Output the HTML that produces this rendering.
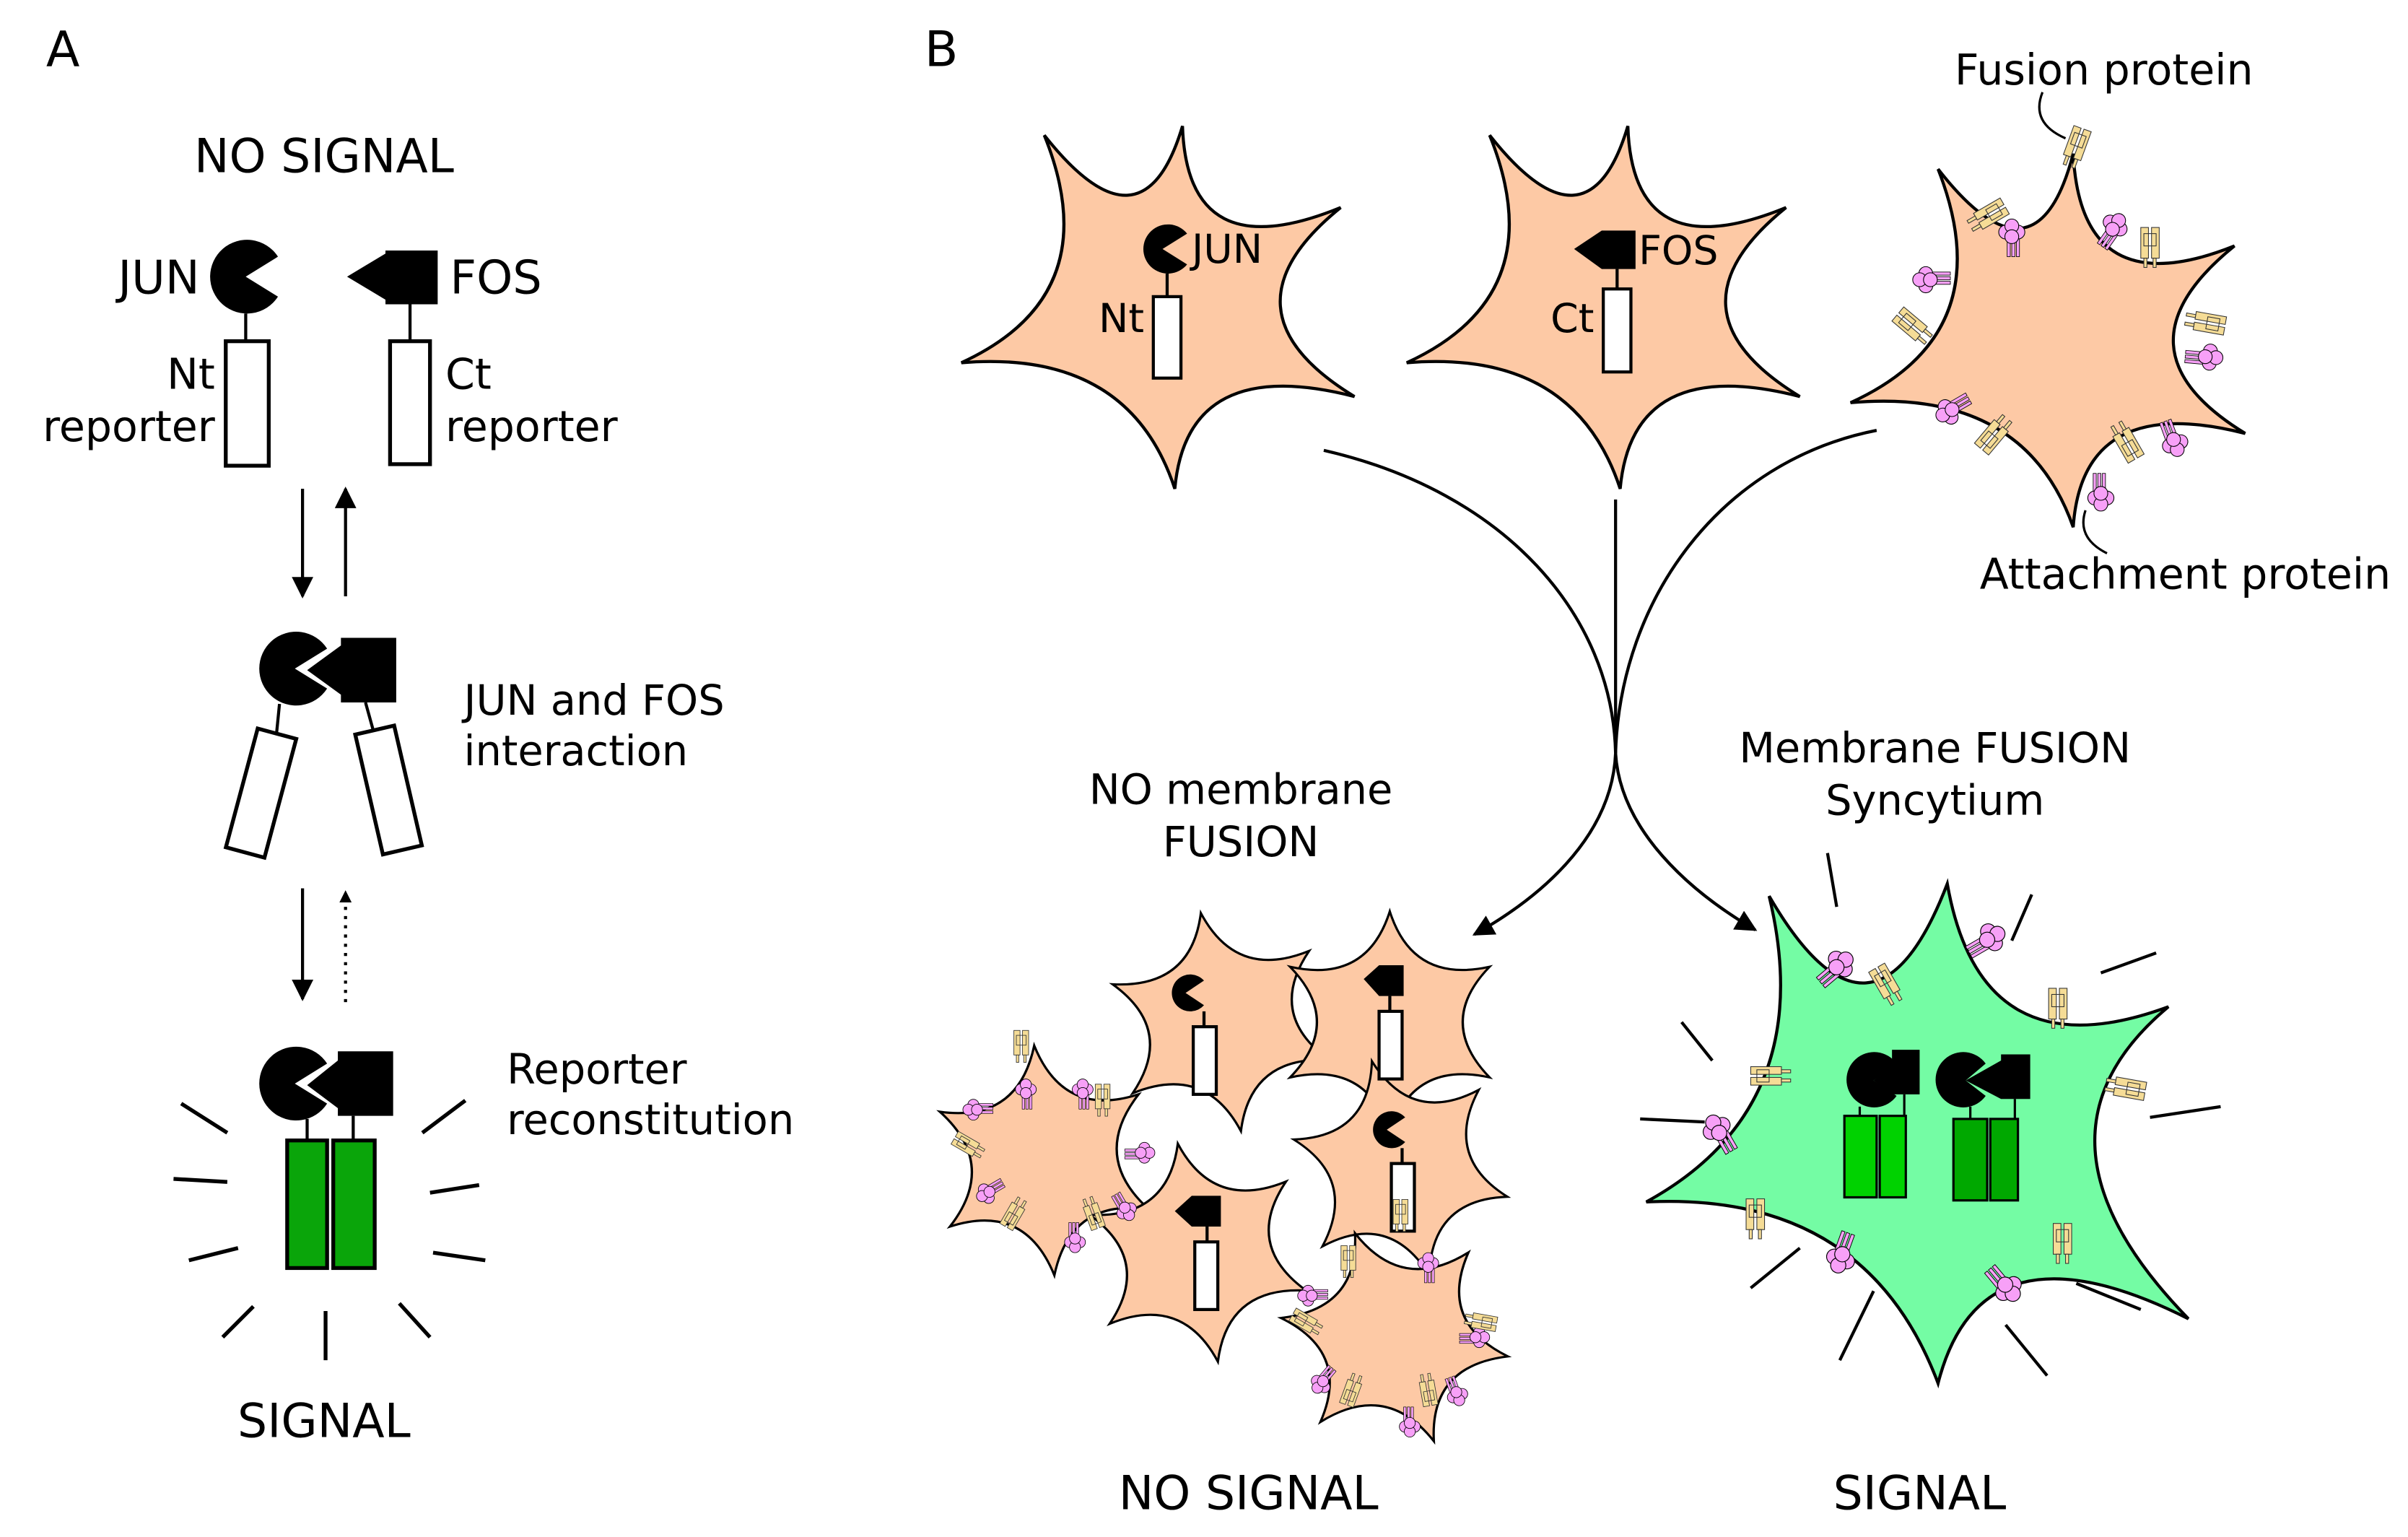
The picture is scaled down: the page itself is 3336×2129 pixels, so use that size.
<!DOCTYPE html>
<html><head><meta charset="utf-8"><style>
html,body{margin:0;padding:0;background:#fff}
svg{display:block}
text{font-family:"DejaVu Sans","Liberation Sans",sans-serif;fill:#000}
</style></head><body>
<svg width="3336" height="2129" viewBox="0 0 1568 1000" preserveAspectRatio="none" xmlns="http://www.w3.org/2000/svg">
<defs>
<marker id="ah" viewBox="0 0 10 10" refX="9" refY="5" markerWidth="8" markerHeight="8" orient="auto" markerUnits="userSpaceOnUse"><path d="M0,0L10,5L0,10z" fill="#000"/></marker>
<marker id="ah2" viewBox="0 0 10 10" refX="9" refY="5" markerWidth="16" markerHeight="14" orient="auto" markerUnits="userSpaceOnUse"><path d="M0,0L10,5L0,10z" fill="#000"/></marker>
<path id="star" d="M-17.4,-98.5 Q13.7,-37.6 76.6,-64.3 Q39.4,-6.9 94,34.2 Q25.7,30.6 17.4,98.5 Q-13.7,37.6 -76.6,64.3 Q-39.4,6.9 -94,-34.2 Q-25.7,-30.6 -17.4,-98.5Z"/>
<g id="att"><rect x="-3" y="0" width="2" height="12" fill="#f7a0f7" stroke="#000" stroke-width="0.4"/><rect x="0" y="0" width="2" height="12" fill="#f7a0f7" stroke="#000" stroke-width="0.4"/><rect x="3" y="0" width="2" height="12" fill="#f7a0f7" stroke="#000" stroke-width="0.4"/><circle cx="-4" cy="-4" r="4.5" fill="#f7a0f7" stroke="#000" stroke-width="0.5"/><circle cx="4" cy="-4" r="4.5" fill="#f7a0f7" stroke="#000" stroke-width="0.5"/><circle cx="0" cy="-8" r="4.5" fill="#f7a0f7" stroke="#000" stroke-width="0.5"/><circle cx="0" cy="-1" r="4.5" fill="#f7a0f7" stroke="#000" stroke-width="0.5"/></g>
<g id="fus" fill="#f5dc96" stroke="#333" stroke-width="0.5"><rect x="-6" y="-12" width="5" height="20"/><rect x="1" y="-12" width="5" height="20"/><rect x="-4" y="-8" width="8" height="8" fill="none"/><rect x="-4" y="8" width="2" height="6"/><rect x="2" y="8" width="2" height="6"/></g>
</defs>

<!-- Panel A -->
<text x="30" y="43" font-size="32">A</text>
<text x="211" y="112" font-size="30.5" text-anchor="middle">NO SIGNAL</text>
<text x="130" y="191" font-size="30" text-anchor="end">JUN</text>
<path d="M160,180 L181,167 A24,24 0 1 0 181,193 Z" fill="#000"/>
<path d="M226,180 L251,165 L251,163 L285,163 L285,198 L251,198 L251,195Z" fill="#000"/>
<text x="293" y="191" font-size="30">FOS</text>
<line x1="160" y1="204" x2="160" y2="222" stroke="#000" stroke-width="2"/>
<rect x="147" y="222" width="28" height="81" fill="#fff" stroke="#000" stroke-width="2.5"/>
<line x1="267" y1="198" x2="267" y2="222" stroke="#000" stroke-width="2"/>
<rect x="254" y="222" width="26" height="80" fill="#fff" stroke="#000" stroke-width="2.5"/>
<text x="140" y="253" font-size="27.5" text-anchor="end">Nt</text>
<text x="140" y="287" font-size="27.5" text-anchor="end">reporter</text>
<text x="290" y="253" font-size="27.5">Ct</text>
<text x="290" y="287" font-size="27.5">reporter</text>
<line x1="197" y1="318" x2="197" y2="388" stroke="#000" stroke-width="2" marker-end="url(#ah2)"/>
<line x1="225" y1="388" x2="225" y2="318" stroke="#000" stroke-width="2" marker-end="url(#ah2)"/>
<!-- middle -->
<path d="M192,435 L213,422 A24,24 0 1 0 213,448 Z" fill="#000"/>
<path d="M200,436 L222,420 L222,415 L258,415 L258,457 L222,457 L222,452Z" fill="#000"/>
<line x1="182" y1="458" x2="180" y2="478" stroke="#000" stroke-width="2"/>
<line x1="238" y1="457" x2="243" y2="475" stroke="#000" stroke-width="2"/>
<rect x="157" y="476" width="26" height="80" fill="#fff" stroke="#000" stroke-width="2.5" transform="rotate(15 170 516)"/>
<rect x="240" y="474" width="26" height="80" fill="#fff" stroke="#000" stroke-width="2.5" transform="rotate(-13 253 514)"/>
<text x="302" y="465" font-size="27">JUN and FOS</text>
<text x="302" y="498" font-size="27">interaction</text>
<line x1="197" y1="578" x2="197" y2="650" stroke="#000" stroke-width="2" marker-end="url(#ah2)"/>
<line x1="225" y1="652" x2="225" y2="580" stroke="#000" stroke-width="2" stroke-dasharray="2,4" marker-end="url(#ah)"/>
<!-- bottom -->
<path d="M192,705 L213,692 A24,24 0 1 0 213,718 Z" fill="#000"/>
<path d="M200,706 L220,690 L220,684 L256,684 L256,726 L220,726 L220,721Z" fill="#000"/>
<line x1="200" y1="728" x2="200" y2="743" stroke="#000" stroke-width="2"/>
<line x1="230" y1="726" x2="230" y2="743" stroke="#000" stroke-width="2"/>
<rect x="187" y="742" width="26" height="83" fill="#0aa50a" stroke="#000" stroke-width="2.5"/>
<rect x="217" y="742" width="27" height="83" fill="#0aa50a" stroke="#000" stroke-width="2.5"/>
<g stroke="#000" stroke-width="2.5">
<line x1="118" y1="718" x2="148" y2="737"/><line x1="113" y1="767" x2="148" y2="769"/><line x1="123" y1="820" x2="155" y2="812"/>
<line x1="145" y1="870" x2="165" y2="850"/><line x1="212" y1="853" x2="212" y2="885"/><line x1="260" y1="848" x2="280" y2="870"/>
<line x1="275" y1="737" x2="303" y2="716"/><line x1="280" y1="776" x2="312" y2="771"/><line x1="282" y1="815" x2="316" y2="820"/>
</g>
<text x="330" y="705" font-size="27">Reporter</text>
<text x="330" y="738" font-size="27">reconstitution</text>
<text x="211" y="935" font-size="30.5" text-anchor="middle">SIGNAL</text>

<!-- Panel B -->
<text x="602" y="43" font-size="32">B</text>
<g fill="#fdc9a5" stroke="#000" stroke-width="2">
<path d="M680,88 Q744,169 770,82 Q773,176 873,135 Q790,202 882,258 Q773,230 765,318 Q735,227 626,236 Q722,192 680,88Z"/>
<path transform="translate(290,0)" d="M680,88 Q744,169 770,82 Q773,176 873,135 Q790,202 882,258 Q773,230 765,318 Q735,227 626,236 Q722,192 680,88Z"/>
<path d="M1262,110 Q1326,192 1350,100 Q1355,200 1455,160 Q1372,227 1462,282 Q1356,255 1350,343 Q1318,252 1205,262 Q1304,217 1262,110Z"/>
</g>
<!-- cell1 contents -->
<path d="M757,162 L773,152 A16,16 0 1 0 773,172 Z" fill="#000"/>
<line x1="760" y1="178" x2="760" y2="193" stroke="#000" stroke-width="2"/>
<rect x="751" y="193" width="18" height="53" fill="#fff" stroke="#000" stroke-width="2"/>
<text x="776" y="171" font-size="26">JUN</text>
<text x="745" y="216" font-size="26" text-anchor="end">Nt</text>
<path d="M1025,162 L1043,150 L1065,150 L1065,175 L1043,175Z" fill="#000"/>
<line x1="1053" y1="175" x2="1053" y2="188" stroke="#000" stroke-width="2"/>
<rect x="1044" y="188" width="18" height="54" fill="#fff" stroke="#000" stroke-width="2"/>
<text x="1067" y="172" font-size="26">FOS</text>
<text x="1038" y="216" font-size="26" text-anchor="end">Ct</text>
<!-- cell3 proteins -->
<use href="#fus" transform="translate(1352,95) rotate(20)"/>
<use href="#fus" transform="translate(1295,140) rotate(60)"/>
<use href="#att" transform="translate(1310,155)"/>
<use href="#att" transform="translate(1375,150) rotate(35)"/>
<use href="#fus" transform="translate(1400,160)"/>
<use href="#att" transform="translate(1258,182) rotate(-90)"/>
<use href="#fus" transform="translate(1245,212) rotate(-50)"/>
<use href="#fus" transform="translate(1437,210) rotate(100)"/>
<use href="#att" transform="translate(1435,232) rotate(95)"/>
<use href="#att" transform="translate(1272,266) rotate(-120)"/>
<use href="#fus" transform="translate(1298,283) rotate(-140)"/>
<use href="#fus" transform="translate(1385,288) rotate(150)"/>
<use href="#att" transform="translate(1415,285) rotate(160)"/>
<use href="#att" transform="translate(1368,320) rotate(180)"/>
<text x="1370" y="55" font-size="27.5" text-anchor="middle">Fusion protein</text>
<path d="M1330,60 Q1322,80 1345,90" fill="none" stroke="#000" stroke-width="1.5"/>
<text x="1423" y="383" font-size="27.5" text-anchor="middle">Attachment protein</text>
<path d="M1358,332 Q1352,350 1372,360" fill="none" stroke="#000" stroke-width="1.5"/>
<!-- connectors -->
<g fill="none" stroke="#000" stroke-width="2">
<path d="M862,293 C980,320 1050,400 1052,490"/>
<path d="M1052,325 L1052,490"/>
<path d="M1222,280 C1120,300 1055,390 1052,490"/>
<path d="M1052,490 C1050,540 1010,580 960,608" marker-end="url(#ah2)"/>
<path d="M1052,490 C1055,540 1100,580 1143,605" marker-end="url(#ah2)"/>
</g>
<text x="808" y="523" font-size="27" text-anchor="middle">NO membrane</text>
<text x="808" y="557" font-size="27" text-anchor="middle">FUSION</text>
<text x="1260" y="496" font-size="27" text-anchor="middle">Membrane FUSION</text>
<text x="1260" y="530" font-size="27" text-anchor="middle">Syncytium</text>
<!-- cluster -->
<g fill="#fdc9a5" stroke="#000" stroke-width="2">
<use href="#star" transform="translate(795,665) scale(0.75,0.72)"/>
<use href="#star" transform="translate(905,665) scale(0.75,0.72) rotate(10)"/>
<use href="#star" transform="translate(912,760) scale(0.72,0.72) rotate(-5)"/>
<use href="#star" transform="translate(680,755) scale(0.75,0.75) rotate(5)"/>
<use href="#star" transform="translate(780,815) scale(0.75,0.72)"/>
<use href="#star" transform="translate(908,870) scale(0.75,0.72) rotate(-10)"/>
</g>
<path d="M772,646 L784,638 A12,12 0 1 0 784,654 Z" fill="#000"/>
<line x1="784" y1="658" x2="784" y2="668" stroke="#000" stroke-width="2"/>
<rect x="777" y="668" width="15" height="44" fill="#fff" stroke="#000" stroke-width="2"/>
<path d="M888,637 L898,628 L914,628 L914,648 L898,648Z" fill="#000"/>
<line x1="905" y1="648" x2="905" y2="658" stroke="#000" stroke-width="2"/>
<rect x="898" y="658" width="15" height="44" fill="#fff" stroke="#000" stroke-width="2"/>
<path d="M903,735 L915,727 A12,12 0 1 0 915,743 Z" fill="#000"/>
<line x1="913" y1="747" x2="913" y2="757" stroke="#000" stroke-width="2"/>
<rect x="906" y="757" width="15" height="44" fill="#fff" stroke="#000" stroke-width="2"/>
<path d="M765,788 L776,778 L795,778 L795,798 L776,798Z" fill="#000"/>
<line x1="786" y1="798" x2="786" y2="808" stroke="#000" stroke-width="2"/>
<rect x="778" y="808" width="15" height="44" fill="#fff" stroke="#000" stroke-width="2"/>
<g>
<use href="#fus" transform="translate(665,680) scale(0.8)"/>
<use href="#att" transform="translate(668,712) scale(0.8)"/>
<use href="#att" transform="translate(705,712) scale(0.8)"/>
<use href="#fus" transform="translate(718,715) scale(0.8)"/>
<use href="#att" transform="translate(637,722) scale(0.8) rotate(-90)"/>
<use href="#fus" transform="translate(630,745) scale(0.8) rotate(-60)"/>
<use href="#att" transform="translate(742,750) scale(0.8) rotate(90)"/>
<use href="#att" transform="translate(645,775) scale(0.8) rotate(-120)"/>
<use href="#fus" transform="translate(660,790) scale(0.8) rotate(-150)"/>
<use href="#att" transform="translate(700,805) scale(0.8) rotate(180)"/>
<use href="#att" transform="translate(732,785) scale(0.8) rotate(150)"/>
<use href="#fus" transform="translate(712,790) scale(0.8) rotate(160)"/>
<use href="#fus" transform="translate(878,820) scale(0.8)"/>
<use href="#att" transform="translate(930,825) scale(0.8)"/>
<use href="#fus" transform="translate(850,860) scale(0.8) rotate(-60)"/>
<use href="#att" transform="translate(855,843) scale(0.8) rotate(-90)"/>
<use href="#att" transform="translate(960,870) scale(0.8) rotate(90)"/>
<use href="#fus" transform="translate(965,860) scale(0.8) rotate(100)"/>
<use href="#att" transform="translate(862,898) scale(0.8) rotate(-140)"/>
<use href="#fus" transform="translate(880,905) scale(0.8) rotate(-160)"/>
<use href="#fus" transform="translate(930,905) scale(0.8) rotate(170)"/>
<use href="#att" transform="translate(948,905) scale(0.8) rotate(160)"/>
<use href="#att" transform="translate(918,925) scale(0.8) rotate(180)"/>
<use href="#fus" transform="translate(912,790) scale(0.8)"/>
</g>
<!-- syncytium -->
<path d="M1152,583 Q1220,700 1268,575 Q1290,700 1412,655 Q1310,740 1425,858 Q1290,790 1262,900 Q1215,775 1072,782 Q1185,720 1152,583Z" fill="#74fca4" stroke="#000" stroke-width="2"/>
<g stroke="#000" stroke-width="2">
<line x1="1190" y1="555" x2="1196" y2="590"/><line x1="1323" y1="582" x2="1310" y2="612"/><line x1="1368" y1="633" x2="1404" y2="620"/>
<line x1="1400" y1="727" x2="1446" y2="720"/><line x1="1095" y1="665" x2="1115" y2="690"/><line x1="1068" y1="728" x2="1110" y2="730"/>
<line x1="1140" y1="838" x2="1172" y2="812"/><line x1="1198" y1="885" x2="1220" y2="840"/><line x1="1306" y1="862" x2="1333" y2="895"/>
<line x1="1352" y1="835" x2="1394" y2="852"/>
</g>
<path d="M1220,703 L1235,692 A18,18 0 1 0 1235,713 Z" fill="#000"/>
<path d="M1220,703 L1232,693 L1232,683 L1250,683 L1250,712 L1232,712Z" fill="#000"/>
<line x1="1211" y1="720" x2="1211" y2="726" stroke="#000" stroke-width="1.5"/>
<line x1="1240" y1="712" x2="1240" y2="726" stroke="#000" stroke-width="1.5"/>
<rect x="1201" y="726" width="21" height="53" fill="#00d200" stroke="#000" stroke-width="1.5"/>
<rect x="1224" y="726" width="17" height="53" fill="#00d200" stroke="#000" stroke-width="1.5"/>
<path d="M1280,703 L1293,692 A18,18 0 1 0 1293,713 Z" fill="#000"/>
<path d="M1280,703 L1303,690 L1303,686 L1322,686 L1322,715 L1303,715Z" fill="#000"/>
<line x1="1283" y1="720" x2="1283" y2="728" stroke="#000" stroke-width="1.5"/>
<line x1="1312" y1="715" x2="1312" y2="728" stroke="#000" stroke-width="1.5"/>
<rect x="1272" y="728" width="22" height="53" fill="#00a800" stroke="#000" stroke-width="1.5"/>
<rect x="1296" y="728" width="18" height="53" fill="#00a800" stroke="#000" stroke-width="1.5"/>
<use href="#att" transform="translate(1195,630) rotate(50) scale(1.1)"/>
<use href="#fus" transform="translate(1228,640) rotate(-30) scale(1)"/>
<use href="#att" transform="translate(1293,612) rotate(60) scale(1.1)"/>
<use href="#fus" transform="translate(1340,655) scale(1)"/>
<use href="#fus" transform="translate(1152,700) rotate(-90) scale(1)"/>
<use href="#att" transform="translate(1120,738) rotate(-30) scale(1.1)"/>
<use href="#fus" transform="translate(1385,708) rotate(100) scale(1)"/>
<use href="#fus" transform="translate(1143,792) scale(1)"/>
<use href="#att" transform="translate(1200,815) rotate(-160) scale(1.1)"/>
<use href="#fus" transform="translate(1343,808) scale(1)"/>
<use href="#att" transform="translate(1305,835) rotate(140) scale(1.1)"/>
<text x="813" y="982" font-size="30.5" text-anchor="middle">NO SIGNAL</text>
<text x="1250" y="982" font-size="30.5" text-anchor="middle">SIGNAL</text>
</svg>
</body></html>
